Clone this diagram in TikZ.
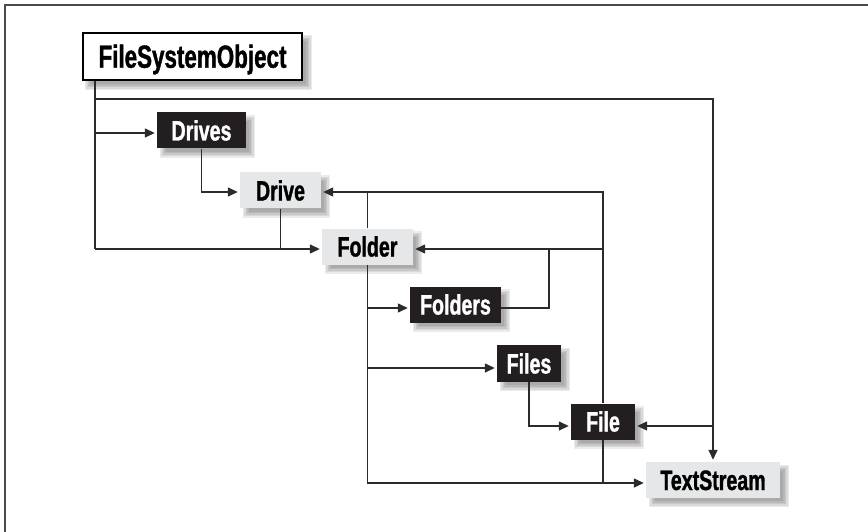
\documentclass[tikz,border=0pt]{standalone}
\usepackage{fontspec}
\setmainfont{Liberation Sans}[FakeStretch=0.7, BoldFeatures={FakeBold=1.2}]
\usetikzlibrary{arrows.meta}
\pgfdeclarelayer{bg}
\pgfsetlayers{bg,main}
\definecolor{boxblack}{HTML}{231F20}
\definecolor{boxgray}{HTML}{E6E7E8}
\definecolor{linec}{HTML}{2B2B2B}
\definecolor{framec}{HTML}{4A4A4A}
\tikzset{
  box/.style={rectangle, inner sep=0pt, text height=20pt, text depth=0pt,
    font=\fontsize{28}{28}\selectfont\bfseries},
  blackbox/.style={box, fill=boxblack, text=white},
  graybox/.style={box, fill=boxgray, text=black},
  rootbox/.style={box, fill=white, draw=black, line width=2.5pt, text height=22.5pt,
    font=\fontsize{32}{32}\selectfont\bfseries},
  conn/.style={draw=linec, line width=1.4pt},
  arr/.style={conn, -{Triangle[length=10pt,width=9pt]}, shorten >=2pt},
  frameline/.style={draw=framec, line width=2pt},
}
\newcommand\boxshadow[1]{%
  \begin{pgfonlayer}{bg}
    \foreach \d in {-3,-1.5,0,1.5,3}{
      \fill[black,opacity=0.08] ([xshift=6pt+\d pt,yshift=-6pt-\d pt]#1.north west)
        rectangle ([xshift=6pt-\d pt,yshift=-6pt+\d pt]#1.south east);
    }
  \end{pgfonlayer}}
\begin{document}
\begin{tikzpicture}[x=1pt,y=-1pt]
\useasboundingbox (0,0) rectangle (868,532);
\draw[frameline] (868,5) -- (5,5) -- (5,532);

% nodes
\node[rootbox, minimum width=219pt, minimum height=47pt] (fso) at (192.5,56.5) {FileSystemObject};
\node[blackbox, minimum width=89pt, minimum height=36pt] (drives) at (201.5,130.5) {Drives};
\node[graybox, minimum width=81pt, minimum height=36pt] (drive) at (280.5,190.5) {Drive};
\node[graybox, minimum width=91pt, minimum height=36pt] (folder) at (367.5,246.5) {Folder};
\node[blackbox, minimum width=91pt, minimum height=36pt] (folders) at (455.5,304.5) {Folders};
\node[blackbox, minimum width=64pt, minimum height=37pt] (files) at (529,363.5) {Files};
\node[blackbox, minimum width=64pt, minimum height=36pt] (file) at (603,421.5) {File};
\node[graybox, minimum width=134pt, minimum height=36pt] (textstream) at (713,480) {TextStream};

\boxshadow{fso}
\boxshadow{drives}
\boxshadow{drive}
\boxshadow{folder}
\boxshadow{folders}
\boxshadow{files}
\boxshadow{file}
\boxshadow{textstream}

% junction coordinates
\coordinate (jA) at (95,99);
\coordinate (jB) at (95,133);
\coordinate (jC) at (95,249);
\coordinate (jD) at (713,426);
\coordinate (jE) at (202,192);
\coordinate (jF) at (603,192);
\coordinate (jG) at (603,249);
\coordinate (jH) at (549,249);
\coordinate (jI) at (549,308);
\coordinate (jJ) at (367,483);
\coordinate (jK) at (367,308);
\coordinate (jL) at (367,368);
\coordinate (jM) at (529,426);

% connectors
\draw[conn] (fso.south -| jC) -- (jC);
\draw[arr] (jC) -- (folder.west |- jC);
\draw[arr] (jB) -- (drives.west |- jB);
\draw[arr] (jA) -| (textstream.north);
\draw[arr] (jD) -- (file.east |- jD);
\draw[arr] (drives.south) |- (drive.west |- jE);
\draw[conn] (drive.south) -- (drive.south |- jC);
\draw[arr] (file.north) -- (jF) -- (drive.east |- jF);
\draw[conn] (folder.north) -- (folder.north |- jF);
\draw[arr] (jG) -- (folder.east |- jG);
\draw[conn] (folders.east |- jI) -- (jI) -- (jH);
\draw[conn] (folder.south) -- (folder.south |- jJ);
\draw[arr] (jK) -- (folders.west |- jK);
\draw[arr] (jL) -- (files.west |- jL);
\draw[arr] (jJ) -- (textstream.west |- jJ);
\draw[arr] (files.south) |- (file.west |- jM);
\draw[conn] (file.south) -- (file.south |- jJ);
\end{tikzpicture}
\end{document}
